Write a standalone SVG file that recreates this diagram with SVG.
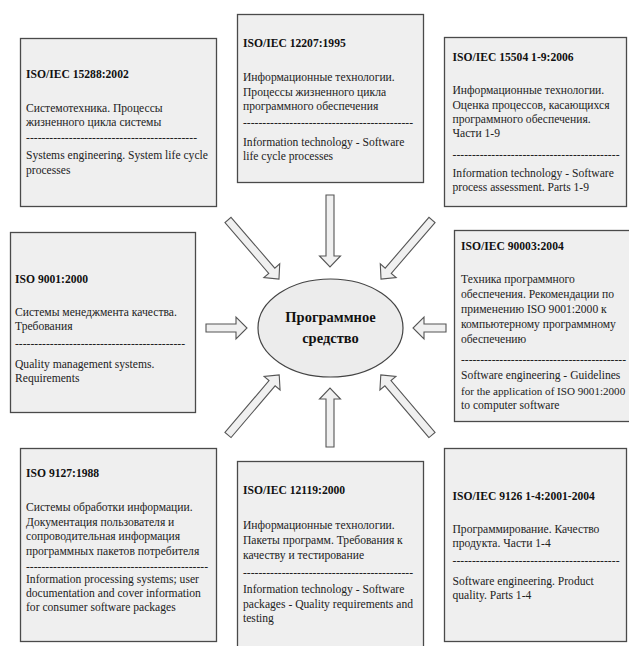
<svg xmlns="http://www.w3.org/2000/svg" width="629" height="646" viewBox="0 0 629 646">
  <style>
    .box { fill: #efefef; stroke: #4a4a4a; stroke-width: 1.3; }
    .t { font-family: "Liberation Serif", "Times New Roman", serif; font-size: 11.6px; fill: #222; }
    .h { font-weight: bold; fill: #111; }
    .arrow { fill: #f0f0f0; stroke: #555; stroke-width: 1.1; stroke-linejoin: miter; }
    .core { fill: #ececec; stroke: #444; stroke-width: 1.2; }
    .core-t { font-family: "Liberation Serif", "Times New Roman", serif; font-size: 14.5px; font-weight: bold; fill: #111; text-anchor: middle; }
  </style>
  <rect width="629" height="646" fill="#ffffff"/>

  <!-- block arrows pointing at the central ellipse -->
  <g id="connectors">
    <path class="arrow" transform="translate(330,195) rotate(90)" d="M0,-4 H61 V-10.5 L72,0 L61,10.5 V4 H0 Z"/>
    <path class="arrow" transform="translate(206,328)" d="M0,-4 H30 V-11 L41,0 L30,11 V4 H0 Z"/>
    <path class="arrow" transform="translate(446,328) rotate(180)" d="M0,-4 H22 V-11 L33,0 L22,11 V4 H0 Z"/>
    <path class="arrow" transform="translate(330,447) rotate(-90)" d="M0,-4 H48 V-10.5 L59,0 L48,10.5 V4 H0 Z"/>
    <path class="arrow" transform="translate(228,220) rotate(49.2)" d="M0,-4 H67 V-10.5 L78,0 L67,10.5 V4 H0 Z"/>
    <path class="arrow" transform="translate(432,220) rotate(130.8)" d="M0,-4 H67 V-10.5 L78,0 L67,10.5 V4 H0 Z"/>
    <path class="arrow" transform="translate(228,435) rotate(-49.6)" d="M0,-4 H68 V-10.5 L79,0 L68,10.5 V4 H0 Z"/>
    <path class="arrow" transform="translate(432,435) rotate(-130.4)" d="M0,-4 H68 V-10.5 L79,0 L68,10.5 V4 H0 Z"/>
  </g>

  <g id="core">
    <ellipse class="core" cx="330.5" cy="328" rx="72.5" ry="49"/>
    <text class="core-t" x="330.5" y="322">Программное</text>
    <text class="core-t" x="330.5" y="343">средство</text>
  </g>

  <g id="iso-15288">
    <rect class="box" x="20.5" y="38.5" width="196" height="168"/>
    <text class="t h" x="26" y="78">ISO/IEC 15288:2002</text>
    <text class="t" x="26" y="112">Системотехника. Процессы</text>
    <text class="t" x="26" y="126">жизненного цикла системы</text>
    <text class="t" x="26" y="141" textLength="171" lengthAdjust="spacing">--------------------------------------------</text>
    <text class="t" x="26" y="159">Systems engineering. System life cycle</text>
    <text class="t" x="26" y="174">processes</text>
  </g>

  <g id="iso-12207">
    <rect class="box" x="237.5" y="14.5" width="186" height="168"/>
    <text class="t h" x="243" y="47">ISO/IEC 12207:1995</text>
    <text class="t" x="243" y="81">Информационные технологии.</text>
    <text class="t" x="243" y="95.5">Процессы жизненного цикла</text>
    <text class="t" x="243" y="109.5">программного обеспечения</text>
    <text class="t" x="243" y="126" textLength="170" lengthAdjust="spacing">--------------------------------------------</text>
    <text class="t" x="243" y="145.5">Information technology - Software</text>
    <text class="t" x="243" y="159.5">life cycle processes</text>
  </g>

  <g id="iso-15504">
    <rect class="box" x="444.5" y="37.5" width="182" height="169"/>
    <text class="t h" x="452.5" y="61">ISO/IEC 15504 1-9:2006</text>
    <text class="t" x="452.5" y="94">Информационные технологии.</text>
    <text class="t" x="452.5" y="108.5">Оценка процессов, касающихся</text>
    <text class="t" x="452.5" y="122.5">программного обеспечения.</text>
    <text class="t" x="452.5" y="137">Части 1-9</text>
    <text class="t" x="452.5" y="158" textLength="167" lengthAdjust="spacing">-------------------------------------------</text>
    <text class="t" x="452.5" y="177">Information technology - Software</text>
    <text class="t" x="452.5" y="191">process assessment. Parts 1-9</text>
  </g>

  <g id="iso-9001">
    <rect class="box" x="10.5" y="232.5" width="185" height="180"/>
    <text class="t h" x="15" y="283">ISO 9001:2000</text>
    <text class="t" x="15" y="315.5">Системы менеджмента качества.</text>
    <text class="t" x="15" y="329.5">Требования</text>
    <text class="t" x="15" y="347" textLength="170" lengthAdjust="spacing">--------------------------------------------</text>
    <text class="t" x="15" y="367.5">Quality management systems.</text>
    <text class="t" x="15" y="381.5">Requirements</text>
  </g>

  <g id="iso-90003">
    <rect class="box" x="454.5" y="230.5" width="190" height="191"/>
    <text class="t h" x="461" y="250">ISO/IEC 90003:2004</text>
    <text class="t" x="461" y="282.5">Техника программного</text>
    <text class="t" x="461" y="297.5">обеспечения. Рекомендации по</text>
    <text class="t" x="461" y="312.5">применению ISO 9001:2000 к</text>
    <text class="t" x="461" y="327.5">компьютерному программному</text>
    <text class="t" x="461" y="342.5">обеспечению</text>
    <text class="t" x="461" y="363" textLength="165" lengthAdjust="spacing">-------------------------------------------</text>
    <text class="t" x="461" y="379">Software engineering - Guidelines</text>
    <text class="t" x="461" y="394.5" style="font-size:11.1px">for the application of ISO 9001:2000</text>
    <text class="t" x="461" y="408.5">to computer software</text>
  </g>

  <g id="iso-9127">
    <rect class="box" x="20.5" y="448.5" width="196" height="193"/>
    <text class="t h" x="26" y="476.5">ISO 9127:1988</text>
    <text class="t" x="26" y="511">Системы обработки информации.</text>
    <text class="t" x="26" y="525.5">Документация пользователя и</text>
    <text class="t" x="26" y="540">сопроводительная информация</text>
    <text class="t" x="26" y="554.5">программных пакетов потребителя</text>
    <text class="t" x="26" y="570" textLength="182" lengthAdjust="spacing">-----------------------------------------------</text>
    <text class="t" x="26" y="582.5">Information processing systems; user</text>
    <text class="t" x="26" y="596.5">documentation and cover information</text>
    <text class="t" x="26" y="611">for consumer software packages</text>
  </g>

  <g id="iso-12119">
    <rect class="box" x="237.5" y="461.5" width="186" height="200"/>
    <text class="t h" x="243" y="494">ISO/IEC 12119:2000</text>
    <text class="t" x="243" y="529">Информационные технологии.</text>
    <text class="t" x="243" y="544">Пакеты программ. Требования к</text>
    <text class="t" x="243" y="558.5">качеству и тестирование</text>
    <text class="t" x="243" y="576" textLength="170" lengthAdjust="spacing">--------------------------------------------</text>
    <text class="t" x="243" y="593">Information technology - Software</text>
    <text class="t" x="243" y="607.5">packages - Quality requirements and</text>
    <text class="t" x="243" y="621.5">testing</text>
  </g>

  <g id="iso-9126">
    <rect class="box" x="444.5" y="448.5" width="182" height="193"/>
    <text class="t h" x="452.5" y="500">ISO/IEC 9126 1-4:2001-2004</text>
    <text class="t" x="452.5" y="532.5">Программирование. Качество</text>
    <text class="t" x="452.5" y="547">продукта. Части 1-4</text>
    <text class="t" x="452.5" y="564" textLength="167" lengthAdjust="spacing">-------------------------------------------</text>
    <text class="t" x="452.5" y="584.5">Software engineering. Product</text>
    <text class="t" x="452.5" y="599">quality. Parts 1-4</text>
  </g>
</svg>
